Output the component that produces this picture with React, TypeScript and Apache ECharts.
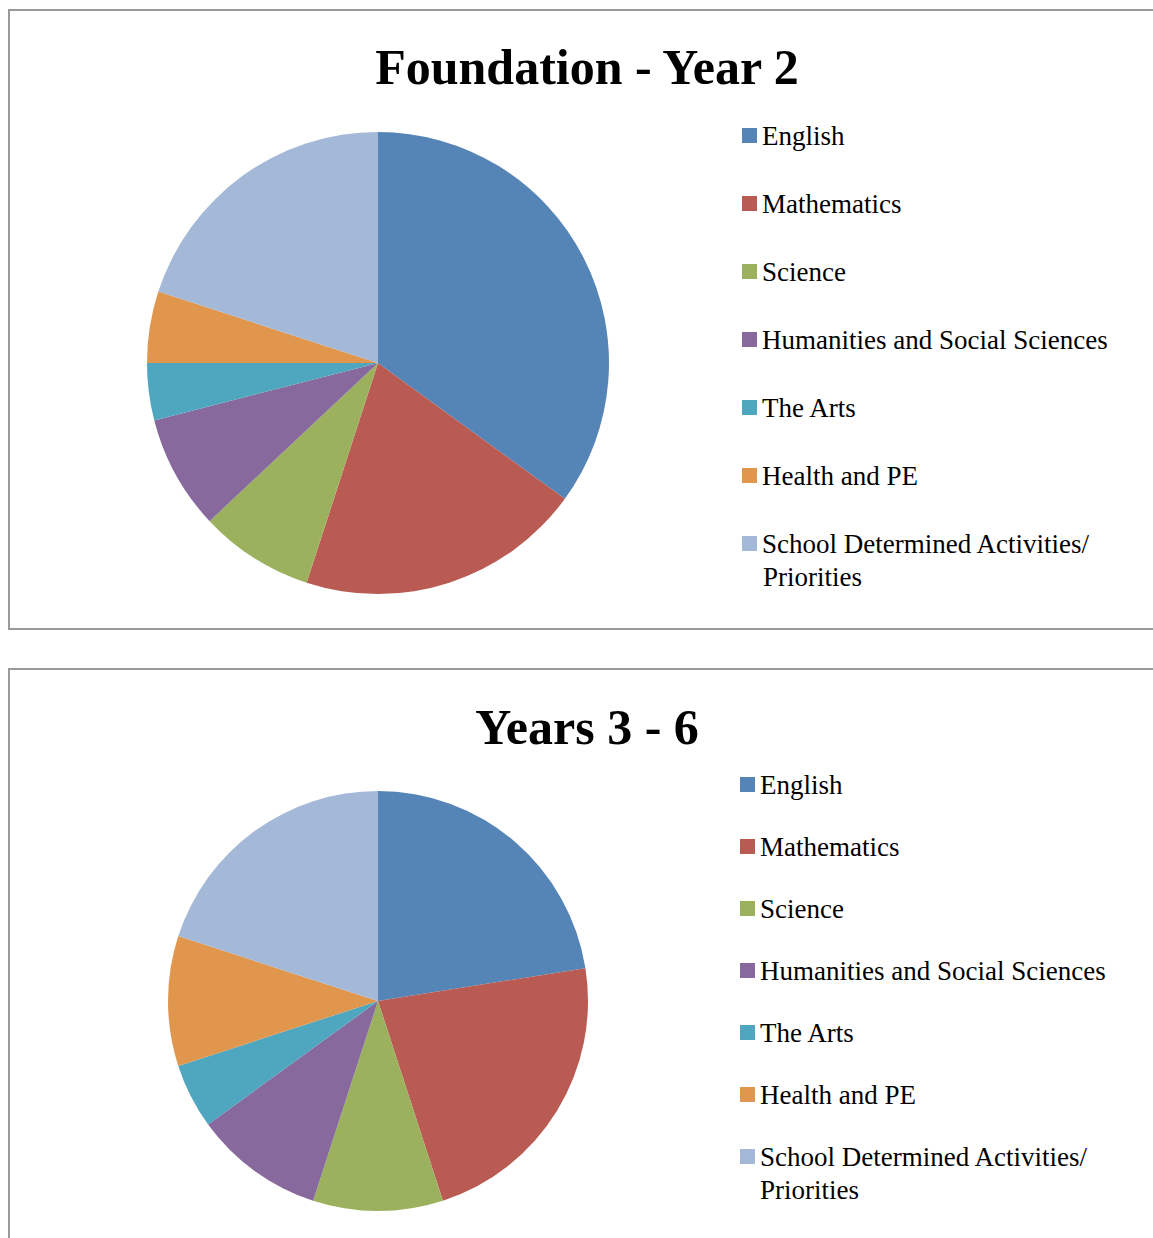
import React, { useEffect, useRef } from "react";
import * as echarts from "echarts";

const subjects = [
  "English",
  "Mathematics",
  "Science",
  "Humanities and Social Sciences",
  "The Arts",
  "Health and PE",
  "School Determined Activities/ Priorities",
];
const subjectColors = ["#5585B6", "#B95A53", "#9BB15D", "#87699D", "#4FA6BF", "#E1964E", "#A4B8D8"];
const foundationValues = [35, 20, 8, 8, 4, 5, 20];
const years36Values = [22.5, 22.5, 10, 10, 5, 10, 20];
const chartTitles = ["Foundation - Year 2", "Years 3 - 6"];

const SERIF = "'Liberation Serif', 'DejaVu Serif', serif";

export default function App() {
  const ref = useRef<HTMLDivElement>(null);
  useEffect(() => {
    if (!ref.current) return;
    const chart = echarts.init(ref.current, null, { renderer: "svg" });
    const lastName = subjects[subjects.length - 1];
    const legendBase = {
      orient: "vertical",
      icon: "rect",
      itemWidth: 15,
      itemHeight: 15,
      data: subjects,
      textStyle: { fontSize: 27, fontFamily: SERIF, color: "#000", lineHeight: 27 },
      formatter: (n: string) => (n === lastName ? "School Determined Activities/" : n),
      selectedMode: false,
    };
    const mkData = (vals: number[]) =>
      subjects.map((s, i) => ({ name: s, value: vals[i], itemStyle: { color: subjectColors[i] } }));
    chart.setOption({
      animation: false,
      backgroundColor: "#fff",
      title: [
        {
          text: chartTitles[0],
          left: 582,
          top: 37,
          textAlign: "center",
          textStyle: { fontSize: 50, fontFamily: SERIF, fontWeight: "bold", color: "#000" },
        },
        {
          text: chartTitles[1],
          left: 582,
          top: 697,
          textAlign: "center",
          textStyle: { fontSize: 50, fontFamily: SERIF, fontWeight: "bold", color: "#000" },
        },
      ],
      legend: [
        { ...legendBase, left: 737, top: 117, itemGap: 41 },
        { ...legendBase, left: 735, top: 766, itemGap: 35 },
      ],
      graphic: [
        {
          type: "rect",
          shape: { x: 9, y: 10, width: 1200, height: 619 },
          style: { fill: "none", stroke: "#9a9a9a", lineWidth: 2 },
          silent: true,
        },
        {
          type: "rect",
          shape: { x: 9, y: 669, width: 1200, height: 700 },
          style: { fill: "none", stroke: "#9a9a9a", lineWidth: 2 },
          silent: true,
        },
        {
          type: "text",
          x: 763,
          y: 577,
          style: { text: "Priorities", font: `27px ${SERIF}`, fill: "#000", verticalAlign: "middle" },
        },
        {
          type: "text",
          x: 760,
          y: 1190,
          style: { text: "Priorities", font: `27px ${SERIF}`, fill: "#000", verticalAlign: "middle" },
        },
      ],
      series: [
        {
          type: "pie",
          name: chartTitles[0],
          center: [378, 363],
          radius: 231,
          startAngle: 90,
          clockwise: true,
          label: { show: false },
          labelLine: { show: false },
          emphasis: { disabled: true },
          data: mkData(foundationValues),
        },
        {
          type: "pie",
          name: chartTitles[1],
          center: [378, 1001],
          radius: 210,
          startAngle: 90,
          clockwise: true,
          label: { show: false },
          labelLine: { show: false },
          emphasis: { disabled: true },
          data: mkData(years36Values),
        },
      ],
    });
    return () => chart.dispose();
  }, []);
  return (
    <div
      ref={ref}
      style={{ position: "absolute", left: 0, top: 0, width: 1153, height: 1238 }}
    />
  );
}
